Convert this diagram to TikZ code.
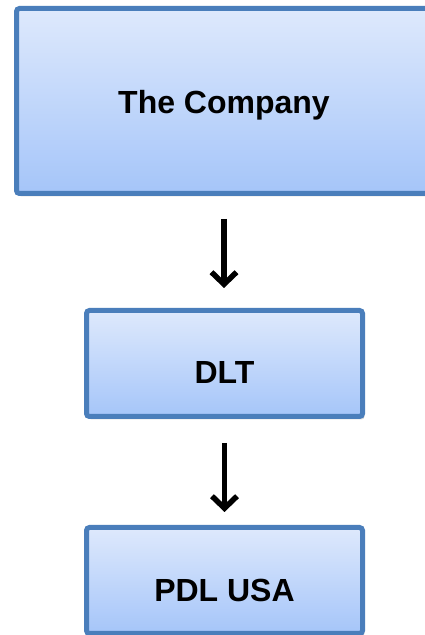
\documentclass[tikz,border=0pt]{standalone}
\usepackage{fontspec}
\setmainfont{Liberation Sans}
\usepackage{xcolor}
\usepackage{tikz}
\usetikzlibrary{arrows.meta,shadows}
\definecolor{hopvien}{RGB}{74,126,187}
\definecolor{hoptren}{RGB}{222,233,252}
\definecolor{hopduoi}{RGB}{165,197,249}
\tikzset{
	hop/.style={draw=hopvien, line width=5pt, rounded corners=3pt,
		top color=hoptren, bottom color=hopduoi,
		drop shadow={opacity=0.3, shadow xshift=2pt, shadow yshift=-3pt},
		font=\fontsize{32}{38}\selectfont\bfseries, inner sep=0pt},
	muiten/.style={line width=5.5pt, line cap=butt,
		-{Straight Barb[length=12pt,width=25pt,line width=5.5pt]}}
}
\begin{document}
\begin{tikzpicture}[x=1pt,y=1pt]
			\useasboundingbox (0,0) rectangle (424,635);
			% Vẽ các hộp
			\node[hop, minimum width=415, minimum height=185, text height=33pt, text depth=7pt] (congty) at (224,534) {The Company};
			\node[hop, minimum width=276, minimum height=106, text height=41pt, text depth=0pt] (dlt) at (224.5,271.5) {DLT};
			\node[hop, minimum width=276, minimum height=106, text height=41pt, text depth=0pt] (pdl) at (224.5,54.5) {PDL USA};
			% Vẽ mũi tên
			\draw[muiten, shorten <=23pt, shorten >=20pt] (congty.south) -- (congty.south |- dlt.north);
			\draw[muiten, shorten <=24pt, shorten >=13pt] (dlt.south) -- (pdl.north);
		\end{tikzpicture}
\end{document}
